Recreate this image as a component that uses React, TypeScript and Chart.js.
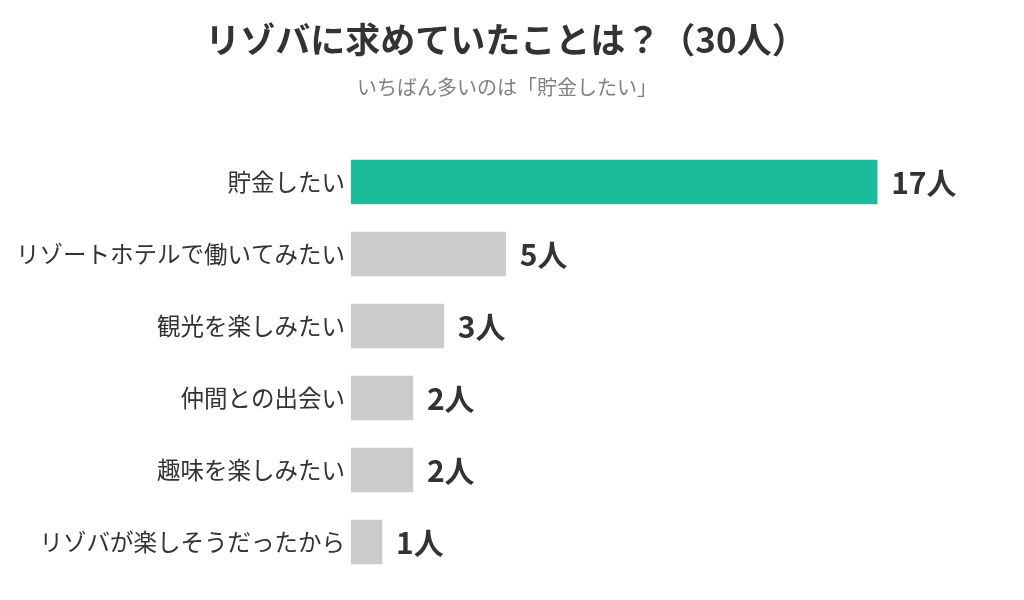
import React, { useEffect, useRef } from "react";
import { Chart, registerables } from "chart.js";

Chart.register(...registerables);

const TITLE = "リゾバに求めていたことは？（30人）";
const SUBTITLE = "いちばん多いのは「貯金したい」";
const categories = [
  "貯金したい",
  "リゾートホテルで働いてみたい",
  "観光を楽しみたい",
  "仲間との出会い",
  "趣味を楽しみたい",
  "リゾバが楽しそうだったから",
];
const counts = [17, 5, 3, 2, 2, 1];
const barColors = ["#1abc9c", "#cccccc", "#cccccc", "#cccccc", "#cccccc", "#cccccc"];
const unit = "人";
const FONT = "'Noto Sans CJK JP', 'Noto Sans', sans-serif";

const overlayPlugin = {
  id: "overlay",
  afterDraw(chart: any) {
    const ctx = chart.ctx;
    ctx.save();
    ctx.textAlign = "center";
    ctx.textBaseline = "middle";
    ctx.fillStyle = "#333333";
    ctx.font = `bold 35px ${FONT}`;
    ctx.fillText(TITLE, 506, 40);
    ctx.fillStyle = "#808080";
    ctx.font = `20px ${FONT}`;
    ctx.fillText(SUBTITLE, 507, 87);

    const meta = chart.getDatasetMeta(0);
    ctx.textAlign = "left";
    ctx.fillStyle = "#333333";
    ctx.font = `bold 30px ${FONT}`;
    meta.data.forEach((bar: any, i: number) => {
      ctx.fillText(`${counts[i]}${unit}`, bar.x + 14, bar.y + 1);
    });
    ctx.restore();
  },
};

export default function App() {
  const ref = useRef<HTMLCanvasElement>(null);
  useEffect(() => {
    if (!ref.current) return;
    const chart = new Chart(ref.current, {
      type: "bar",
      data: {
        labels: categories,
        datasets: [
          {
            data: counts,
            backgroundColor: barColors,
            barThickness: 44,
          },
        ],
      },
      options: {
        indexAxis: "y",
        animation: false,
        responsive: false,
        layout: { padding: { top: 146, bottom: 22, left: 0, right: 54 } },
        plugins: {
          legend: { display: false },
          tooltip: { enabled: false },
          title: { display: false },
        },
        scales: {
          x: { display: false, min: 0, max: 20 },
          y: {
            grid: { display: false },
            border: { display: false },
            ticks: {
              color: "#333333",
              padding: -2,
              font: { size: 23.5, family: FONT },
            },
            afterFit(scale: any) {
              scale.width = 351;
            },
          },
        },
      },
      plugins: [overlayPlugin],
    });
    return () => chart.destroy();
  }, []);
  return (
    <div style={{ position: "fixed", left: 0, top: 0, width: 1024, height: 600, background: "#fff" }}>
      <canvas ref={ref} width={1024} height={600} />
    </div>
  );
}
